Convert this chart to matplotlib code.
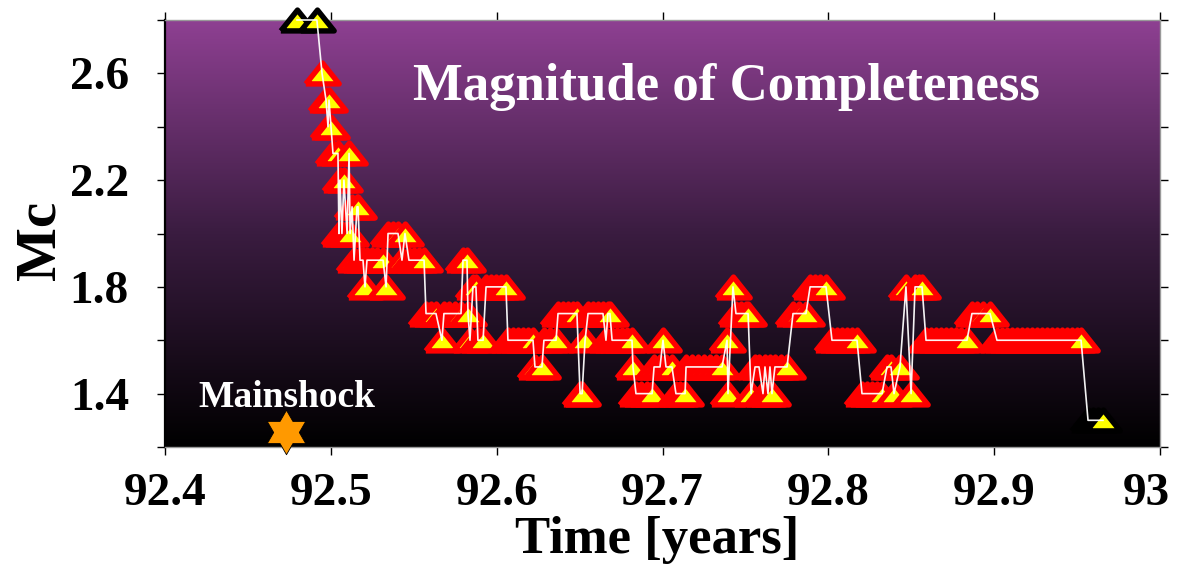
import matplotlib
matplotlib.use('Agg')
import matplotlib.pyplot as plt
import numpy as np
from matplotlib.markers import MarkerStyle
from matplotlib.colors import LinearSegmentedColormap
from matplotlib.transforms import ScaledTranslation

plt.rcParams['font.family'] = ['Liberation Serif', 'DejaVu Serif']
plt.rcParams['font.weight'] = 'bold'

# ---------------- data ----------------
# first estimates (black-edged), Mc = 2.8
time_start = [92.4796, 92.4916]
mc_start = [2.8, 2.8]

# main Mc(t) estimates (red-edged)
time_main = [
    92.4947, 92.4971, 92.4983, 92.4989, 92.5001, 92.5013, 92.5043, 92.5049, 92.5055, 92.5067,
    92.5079, 92.5098, 92.5110, 92.5116, 92.5128, 92.5140, 92.5158, 92.5164, 92.5176, 92.5194,
    92.5206, 92.5218, 92.5248, 92.5278, 92.5315, 92.5333, 92.5345, 92.5375, 92.5405, 92.5429,
    92.5447, 92.5471, 92.5502, 92.5532, 92.5562, 92.5574, 92.5604, 92.5634, 92.5670, 92.5682,
    92.5713, 92.5749, 92.5785, 92.5797, 92.5821, 92.5827, 92.5839, 92.5857, 92.5875, 92.5887,
    92.5918, 92.5936, 92.5966, 92.5996, 92.6026, 92.6056, 92.6068, 92.6099, 92.6129, 92.6159,
    92.6189, 92.6219, 92.6231, 92.6273, 92.6285, 92.6322, 92.6358, 92.6370, 92.6400, 92.6430,
    92.6460, 92.6484, 92.6503, 92.6515, 92.6533, 92.6551, 92.6581, 92.6611, 92.6641, 92.6659,
    92.6671, 92.6683, 92.6696, 92.6726, 92.6756, 92.6786, 92.6816, 92.6822, 92.6840, 92.6870,
    92.6907, 92.6937, 92.6949, 92.6985, 92.7003, 92.7021, 92.7057, 92.7081, 92.7106, 92.7136,
    92.7142, 92.7178, 92.7214, 92.7250, 92.7287, 92.7323, 92.7359, 92.7389, 92.7395, 92.7425,
    92.7443, 92.7473, 92.7504, 92.7516, 92.7534, 92.7558, 92.7582, 92.7606, 92.7618, 92.7636,
    92.7648, 92.7660, 92.7678, 92.7715, 92.7751, 92.7787, 92.7823, 92.7865, 92.7890, 92.7920,
    92.7950, 92.7986, 92.8022, 92.8052, 92.8082, 92.8113, 92.8143, 92.8173, 92.8203, 92.8233,
    92.8263, 92.8294, 92.8324, 92.8354, 92.8378, 92.8396, 92.8432, 92.8468, 92.8499, 92.8523,
    92.8547, 92.8565, 92.8589, 92.8619, 92.8649, 92.8680, 92.8710, 92.8740, 92.8770, 92.8800,
    92.8836, 92.8866, 92.8897, 92.8933, 92.8975, 92.9017, 92.9047, 92.9078, 92.9108, 92.9138,
    92.9168, 92.9198, 92.9228, 92.9258, 92.9289, 92.9319, 92.9349, 92.9379, 92.9409, 92.9439,
    92.9469, 92.9500, 92.9524,
]
mc_main = [
    2.6, 2.5, 2.4, 2.5, 2.4, 2.3, 2.3, 2.0, 2.2, 2.0,
    2.2, 2.0, 2.3, 2.0, 2.1, 1.9, 2.1, 2.1, 1.9, 1.9,
    1.8, 1.9, 1.9, 1.9, 1.9, 1.8, 2.0, 2.0, 2.0, 1.9,
    2.0, 1.9, 1.9, 1.9, 1.9, 1.7, 1.7, 1.7, 1.6, 1.7,
    1.7, 1.7, 1.7, 1.9, 1.9, 1.7, 1.6, 1.8, 1.8, 1.6,
    1.6, 1.8, 1.8, 1.8, 1.8, 1.8, 1.6, 1.6, 1.6, 1.6,
    1.6, 1.6, 1.5, 1.5, 1.6, 1.6, 1.6, 1.7, 1.7, 1.7,
    1.7, 1.7, 1.4, 1.4, 1.6, 1.7, 1.7, 1.7, 1.7, 1.6,
    1.7, 1.7, 1.6, 1.6, 1.6, 1.6, 1.6, 1.5, 1.4, 1.4,
    1.4, 1.4, 1.5, 1.5, 1.6, 1.5, 1.5, 1.4, 1.4, 1.4,
    1.5, 1.5, 1.5, 1.5, 1.5, 1.5, 1.5, 1.6, 1.4, 1.8,
    1.7, 1.7, 1.7, 1.7, 1.4, 1.5, 1.5, 1.4, 1.5, 1.4,
    1.5, 1.4, 1.5, 1.5, 1.5, 1.7, 1.7, 1.7, 1.8, 1.8,
    1.8, 1.8, 1.6, 1.6, 1.6, 1.6, 1.6, 1.6, 1.4, 1.4,
    1.4, 1.4, 1.4, 1.5, 1.5, 1.4, 1.5, 1.8, 1.4, 1.8,
    1.8, 1.8, 1.6, 1.6, 1.6, 1.6, 1.6, 1.6, 1.6, 1.6,
    1.6, 1.7, 1.7, 1.7, 1.7, 1.6, 1.6, 1.6, 1.6, 1.6,
    1.6, 1.6, 1.6, 1.6, 1.6, 1.6, 1.6, 1.6, 1.6, 1.6,
    1.6, 1.6, 1.6,
]

# last estimates (black-edged), Mc = 1.3
time_end = [92.9566, 92.9596, 92.9626, 92.9656]
mc_end = [1.3, 1.3, 1.3, 1.3]

# mainshock
mainshock_time = 92.473
mainshock_mc = 1.255

x_ticks = [92.4, 92.5, 92.6, 92.7, 92.8, 92.9, 93.0]
x_ticklabels = ['92.4', '92.5', '92.6', '92.7', '92.8', '92.9', '93']
y_major = [1.4, 1.8, 2.2, 2.6]
y_major_labels = ['1.4', '1.8', '2.2', '2.6']
y_minor = [1.2, 1.6, 2.0, 2.4, 2.8]

# ---------------- figure ----------------
W, H = 1178, 570
fig = plt.figure(figsize=(W / 100, H / 100), dpi=100)
L, R, T, B = 165, 1160, 20, 447
ax = fig.add_axes([L / W, 1 - B / H, (R - L) / W, (B - T) / H])

xmin, xmax, ymin, ymax = 92.4, 93.0, 1.2, 2.8

# gradient background
cmap = LinearSegmentedColormap.from_list('bg', ['#000000', '#3a1c40', '#8e4092'], N=256)
grad = np.linspace(0, 1, 256).reshape(-1, 1)
ax.imshow(grad, origin='lower', extent=[xmin, xmax, ymin, ymax], aspect='auto',
          cmap=cmap, zorder=0, interpolation='bilinear')

# triangle marker (flat, rounded joins)
tri = MarkerStyle([(-1, -0.625), (1, -0.625), (0, 0.625), (-1, -0.625)], joinstyle='round')
ms_tri = 24
mew_tri = 3.9

ax.plot(time_main, mc_main, linestyle='none', marker=tri, markersize=ms_tri,
        markerfacecolor='#ffff00', markeredgecolor='#ff0000', markeredgewidth=mew_tri,
        zorder=3, clip_on=False)
ax.plot(time_start, mc_start, linestyle='none', marker=tri, markersize=ms_tri,
        markerfacecolor='#ffff00', markeredgecolor='#000000', markeredgewidth=mew_tri,
        zorder=3, clip_on=False)
ax.plot(time_end, mc_end, linestyle='none', marker=tri, markersize=ms_tri,
        markerfacecolor='#ffff00', markeredgecolor='#000000', markeredgewidth=mew_tri,
        zorder=3, clip_on=False)

# connecting white line
t_all = list(time_start) + list(time_main) + list(time_end)
m_all = list(mc_start) + list(mc_main) + list(mc_end)
ax.plot(t_all, m_all, color='white', linewidth=1.2, alpha=0.95, zorder=4, clip_on=False)

# mainshock hexagram
ang_out = np.deg2rad(90 + 60 * np.arange(6))
ang_in = ang_out + np.deg2rad(30)
verts = []
for a_o, a_i in zip(ang_out, ang_in):
    verts.append((np.cos(a_o), np.sin(a_o)))
    verts.append((0.577 * np.cos(a_i), 0.577 * np.sin(a_i)))
verts.append(verts[0])
star = MarkerStyle(verts)
ax.plot([mainshock_time], [mainshock_mc], linestyle='none', marker=star, markersize=32,
        markerfacecolor='#ff9900', markeredgecolor='#000000', markeredgewidth=0.6,
        zorder=5, clip_on=False)
ax.text(mainshock_time + 0.0005, 1.349, 'Mainshock', ha='center', va='baseline',
        color='white', fontsize=27, fontweight='bold', zorder=6)

# title inside plot
ax.text((726 - L) / (R - L), (B - 100) / (B - T), 'Magnitude of Completeness',
        transform=ax.transAxes, ha='center', va='baseline', color='white',
        fontsize=38, fontweight='bold', zorder=6)

ax.set_xlim(xmin, xmax)
ax.set_ylim(ymin, ymax)

ax.set_xticks(x_ticks)
ax.set_xticklabels(x_ticklabels)
ax.set_yticks(y_major)
ax.set_yticklabels(y_major_labels)
ax.set_yticks(y_minor, minor=True)

ax.tick_params(axis='both', which='both', direction='out', length=6, width=1,
               color='black', top=True, right=True, labeltop=False, labelright=False)
ax.tick_params(axis='both', which='major', labelsize=34)
ax.tick_params(axis='x', which='major', pad=13)
ax.tick_params(axis='y', which='major', pad=20)
for lab in ax.get_xticklabels() + ax.get_yticklabels():
    lab.set_fontweight('bold')

# keep the last x tick label inside the figure, as in the reference
last_lab = ax.get_xticklabels()[-1]
last_lab.set_transform(last_lab.get_transform() + ScaledTranslation(-0.14, 0, fig.dpi_scale_trans))

ax.set_xlabel('Time [years]', fontsize=38, fontweight='bold')
ax.set_ylabel('Mc', fontsize=41, fontweight='bold')
ax.xaxis.set_label_coords((657 - L) / (R - L), (B - 516) / (B - T))
ax.yaxis.set_label_coords((67 - L) / (R - L), (B - 240) / (B - T))

ax.spines['left'].set_color('black')
ax.spines['left'].set_linewidth(1.6)
for s in ['top', 'bottom', 'right']:
    ax.spines[s].set_color('#999999')
    ax.spines[s].set_linewidth(1.0)

fig.savefig('out.png', dpi=100)
